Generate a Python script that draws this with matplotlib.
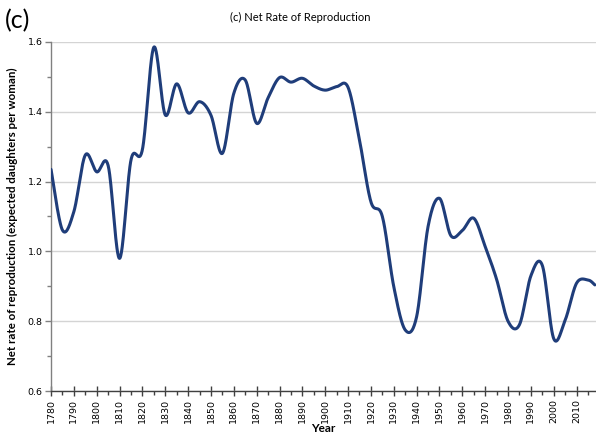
import matplotlib
matplotlib.use("Agg")
import matplotlib.pyplot as plt
import numpy as np
from matplotlib.ticker import MultipleLocator

# data
years = [1780, 1785, 1790, 1795, 1800, 1805, 1810, 1815, 1820, 1825,
         1830, 1835, 1840, 1845, 1850, 1855, 1860, 1865, 1870, 1875,
         1880, 1885, 1890, 1895, 1900, 1905, 1910, 1915, 1920, 1925,
         1930, 1935, 1940, 1945, 1950, 1955, 1960, 1965, 1970, 1975,
         1980, 1985, 1990, 1995, 2000, 2005, 2010, 2015, 2018]
nrr = [1.235, 1.061, 1.114, 1.276, 1.228, 1.246, 0.980, 1.262, 1.292, 1.585,
       1.391, 1.480, 1.397, 1.429, 1.390, 1.281, 1.453, 1.491, 1.367, 1.440,
       1.498, 1.485, 1.496, 1.474, 1.462, 1.472, 1.470, 1.319, 1.142, 1.100,
       0.899, 0.775, 0.813, 1.071, 1.152, 1.045, 1.060, 1.095, 1.014, 0.920,
       0.800, 0.790, 0.930, 0.960, 0.750, 0.803, 0.909, 0.918, 0.904]


# smoothed line like the spreadsheet chart (Catmull-Rom through the points)
def smooth_line(xs, ys, steps=30):
    pts = np.column_stack([xs, ys]).astype(float)
    pts = np.vstack([pts[0], pts, pts[-1]])
    out = []
    for i in range(1, len(pts) - 2):
        p0, p1, p2, p3 = pts[i - 1], pts[i], pts[i + 1], pts[i + 2]
        t = np.linspace(0, 1, steps, endpoint=False)[:, None]
        seg = 0.5 * ((2 * p1) + (-p0 + p2) * t
                     + (2 * p0 - 5 * p1 + 4 * p2 - p3) * t ** 2
                     + (-p0 + 3 * p1 - 3 * p2 + p3) * t ** 3)
        out.append(seg)
    out.append(pts[-2][None, :])
    out = np.vstack(out)
    return out[:, 0], out[:, 1]


sx, sy = smooth_line(years, nrr)

fig = plt.figure(figsize=(5.96, 4.36), dpi=100)
ax = fig.add_axes([0.0856, 0.1032, 0.9144, 0.8005])

ax.plot(sx, sy, color='#1f3d7a', linewidth=2.2, solid_capstyle='round', zorder=3)

ax.set_xlim(1780, 2018.5)
ax.set_ylim(0.6, 1.6)
ax.xaxis.set_major_locator(MultipleLocator(10))
ax.xaxis.set_minor_locator(MultipleLocator(5))
ax.yaxis.set_major_locator(MultipleLocator(0.2))
ax.yaxis.set_minor_locator(MultipleLocator(0.1))
ax.yaxis.set_major_formatter(matplotlib.ticker.FormatStrFormatter('%.1f'))

ax.grid(axis='y', which='major', color='#d4d4d4', linewidth=1.0, zorder=0)
ax.set_axisbelow(True)
for s in ['top', 'right']:
    ax.spines[s].set_visible(False)
ax.spines['left'].set_color('#808080')
ax.spines['left'].set_linewidth(1.0)
ax.spines['bottom'].set_color('#404040')
ax.spines['bottom'].set_linewidth(1.0)

ax.tick_params(axis='x', which='major', direction='inout', length=7, width=1,
               color='#404040', labelsize=6.8, labelrotation=90, pad=2)
ax.tick_params(axis='x', which='minor', direction='out', length=3, width=1,
               color='#404040')
ax.tick_params(axis='y', which='major', direction='out', length=4, width=1,
               color='#808080', labelsize=6.8, pad=2)
ax.tick_params(axis='y', which='minor', direction='out', length=3, width=1,
               color='#808080')

ax.set_xlabel('Year', fontsize=8.5, fontweight='bold', family='Lato', labelpad=0)
ax.set_ylabel('Net rate of reproduction (expected daughters per woman)',
              fontsize=8.3, fontweight='bold', family='Lato', labelpad=7)

fig.text(0.503, 0.961, '(c) Net Rate of Reproduction', ha='center', va='center',
         fontsize=8, family='Lato')
fig.text(0.008, 0.953, '(c)', ha='left', va='center', fontsize=18,
         family='Lato')

fig.savefig('out.png', dpi=100)
